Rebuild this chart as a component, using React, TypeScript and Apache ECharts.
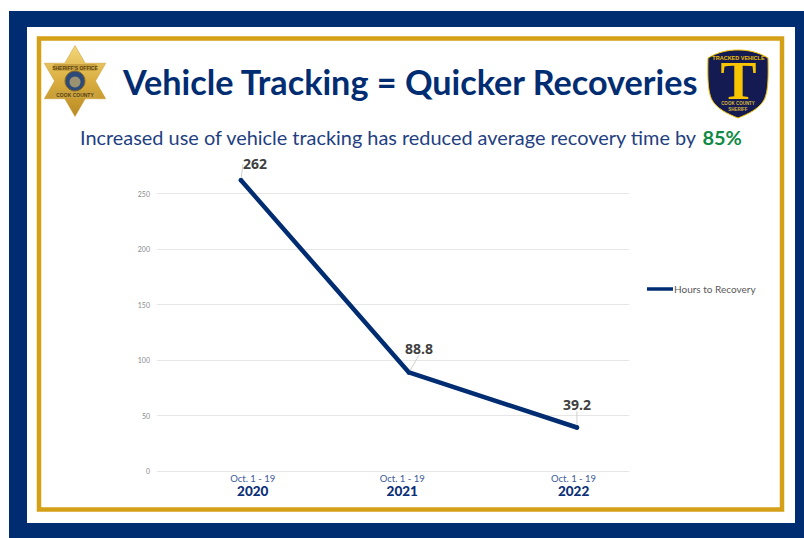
import React, { useEffect, useRef } from "react";
import * as echarts from "echarts";

const seriesName = "Hours to Recovery";
const periods = ["Oct. 1 - 19", "Oct. 1 - 19", "Oct. 1 - 19"];
const years = ["2020", "2021", "2022"];
const hours = [262, 88.8, 39.2];
const xPositions = [0, 1, 2];
const xLabelPositions = [0.07, 0.96, 1.98];
const yTicks = [0, 50, 100, 150, 200, 250];
const labelShifts = [[14, -7], [10, -15], [0, -14]];
const titleText = "Vehicle Tracking = Quicker Recoveries";
const subtitleText = "Increased use of vehicle tracking has reduced average recovery time by ";
const subtitlePct = "85%";

const NAVY = "#002d72";
const GOLD = "#d4a017";
const FONT = "Lato, 'Open Sans', sans-serif";

const shieldPath = "M0 8 C10 2 20 0 30 0 C40 0 50 2 60 8 C60.5 30 60 42 56 50 C51 59 40 64 30 68 C20 64 9 59 4 50 C0 42 -0.5 30 0 8 Z";
echarts.graphic.registerShape("shield", echarts.graphic.extendPath(shieldPath, {}));

function starPoints(cx: number, cy: number, R: number, r: number) {
  const pts: number[][] = [];
  for (let i = 0; i < 12; i++) {
    const a = (-90 + i * 30) * Math.PI / 180;
    const rad = i % 2 === 0 ? R : r;
    pts.push([cx + rad * Math.cos(a), cy + rad * Math.sin(a)]);
  }
  return pts;
}

export default function App() {
  const ref = useRef<HTMLDivElement>(null);
  useEffect(() => {
    const chart = echarts.init(ref.current!, undefined, { renderer: "svg" });
    const gold = new echarts.graphic.LinearGradient(0, 0, 0, 1, [
      { offset: 0, color: "#f3d77a" },
      { offset: 0.5, color: "#d9ad3f" },
      { offset: 1, color: "#b98a22" },
    ]);
    chart.setOption({
      animation: false,
      backgroundColor: "#ffffff",
      grid: { left: 157, right: 175, top: 193.5, bottom: 67 },
      legend: {
        show: true,
        left: 647,
        top: 284,
        padding: 0,
        icon: "rect",
        itemWidth: 26,
        itemHeight: 3.5,
        data: [seriesName],
        textStyle: { fontFamily: FONT, fontSize: 10, color: "#595959", padding: [0, 0, 0, -4] },
      },
      xAxis: {
        type: "value",
        min: -0.5,
        max: 2.31,
        splitLine: { show: false },
        axisLine: { show: false },
        axisTick: { show: false },
        axisLabel: {
          customValues: xLabelPositions,
          margin: 2,
          showMinLabel: true,
          showMaxLabel: true,
          formatter: (v: number) => {
            const i = Math.round(v);
            return `{a|${periods[i]}}\n{b|${years[i]}}`;
          },
          rich: {
            a: { fontFamily: FONT, fontSize: 9.5, color: "#3c5a9a", lineHeight: 11, align: "center" },
            b: { fontFamily: FONT, fontSize: 13.5, fontWeight: 900, color: "#0b2f78", lineHeight: 13, align: "center" },
          },
        },
      },
      yAxis: {
        type: "value",
        min: 0,
        max: 250,
        interval: 50,
        axisLine: { show: false },
        axisTick: { show: false },
        splitLine: { lineStyle: { color: "#e6e6e6", width: 1 } },
        axisLabel: { fontFamily: FONT, fontSize: 7, color: "#8a8a8a", margin: 7, customValues: yTicks },
      },
      series: [
        {
          name: seriesName,
          type: "line",
          clip: false,
          symbol: "circle",
          symbolSize: 4.5,
          showSymbol: true,
          data: hours.map((h, i) => [xPositions[i], h]),
          lineStyle: { color: NAVY, width: 4.5, cap: "round", join: "round" },
          itemStyle: { color: NAVY },
          label: {
            show: true,
            position: "top",
            distance: 0,
            fontFamily: "'Open Sans', sans-serif",
            fontWeight: 700,
            fontSize: 14,
            color: "#404040",
            formatter: (p: any) => String(p.value[1]),
          },
          labelLayout: (p: any) => ({ dx: labelShifts[p.dataIndex][0], dy: labelShifts[p.dataIndex][1] }),
          labelLine: { show: true, lineStyle: { color: "#d0d0d0", width: 1 } },
        },
      ],
      graphic: [
        { type: "rect", z: -10, shape: { x: 9, y: 11, width: 795, height: 527 }, style: { fill: NAVY } },
        { type: "rect", z: -9, shape: { x: 27, y: 27, width: 768, height: 496 }, style: { fill: "#ffffff" } },
        { type: "rect", z: -8, shape: { x: 39, y: 38.5, width: 743, height: 471 }, style: { fill: "#ffffff", stroke: GOLD, lineWidth: 4.5 } },
        { type: "polygon", z: -5, shape: { points: starPoints(75, 81, 35.5, 20.5) }, style: { fill: gold, stroke: "#c79a33", lineWidth: 0.5 } },
        { type: "rect", z: -4, shape: { x: 53, y: 64, width: 44, height: 7, r: 2 }, style: { fill: "#c9a23f" } },
        { type: "rect", z: -4, shape: { x: 53, y: 91, width: 44, height: 7, r: 2 }, style: { fill: "#c9a23f" } },
        { type: "circle", z: -3, shape: { cx: 75, cy: 81, r: 10 }, style: { fill: "#2d4a78", stroke: "#8a6a22", lineWidth: 1 } },
        { type: "circle", z: -2, shape: { cx: 75, cy: 82, r: 5.5 }, style: { fill: "#9a9270" } },
        { type: "text", z: -2, style: { x: 75, y: 67.5, text: "SHERIFF'S OFFICE", align: "center", verticalAlign: "middle", font: "700 5px 'Liberation Sans'", fill: "#5b4310" } },
        { type: "text", z: -2, style: { x: 75, y: 94.5, text: "COOK COUNTY", align: "center", verticalAlign: "middle", font: "700 5px 'Liberation Sans'", fill: "#5b4310" } },
        { type: "shield", z: -5, x: 708, y: 50, style: { fill: "#141a52", stroke: "#f2c200", lineWidth: 1 } },
        { type: "text", z: -2, style: { x: 738.5, y: 58, text: "TRACKED VEHICLE", align: "center", verticalAlign: "middle", font: "700 5.5px 'Liberation Sans'", fill: "#f2c200" } },
        { type: "text", z: -2, style: { x: 738.5, y: 81, text: "T", align: "center", verticalAlign: "middle", font: "700 54px 'Liberation Serif'", fill: "#f7c600" } },
        { type: "text", z: -2, style: { x: 738, y: 103, text: "COOK COUNTY", align: "center", verticalAlign: "middle", font: "700 4.5px 'Liberation Sans'", fill: "#d8b93a" } },
        { type: "text", z: -2, style: { x: 738, y: 109.5, text: "SHERIFF", align: "center", verticalAlign: "middle", font: "700 4.5px 'Liberation Sans'", fill: "#d8b93a" } },
        { type: "text", z: 5, style: { x: 123, y: 81, text: titleText, align: "left", verticalAlign: "middle", font: `700 34.2px ${FONT}`, fill: NAVY } },
        {
          type: "text", z: 5,
          style: {
            x: 80, y: 137, verticalAlign: "middle", align: "left",
            text: `{s|${subtitleText}}{p|${subtitlePct}}`,
            rich: {
              s: { fontFamily: FONT, fontSize: 19.9, fill: "#1f3f82", color: "#1f3f82" },
              p: { fontFamily: FONT, fontSize: 19.9, fontWeight: 700, fill: "#0f8a45", color: "#0f8a45" },
            },
          },
        },
      ],
    });
    return () => chart.dispose();
  }, []);
  return <div ref={ref} style={{ position: "fixed", left: 0, top: 0, width: 804, height: 538 }} />;
}
